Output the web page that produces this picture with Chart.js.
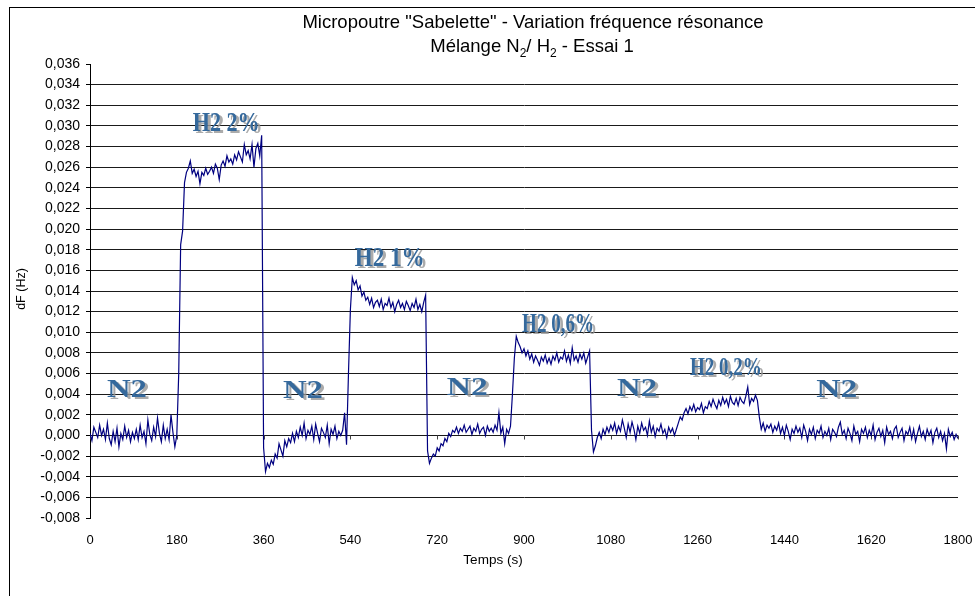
<!DOCTYPE html>
<html>
<head>
<meta charset="utf-8">
<script src="https://cdn.jsdelivr.net/npm/chart.js@4/dist/chart.umd.min.js"></script>
<style>
  html, body { margin: 0; padding: 0; background: #fff; }
  #wrap { width: 975px; height: 596px; position: relative; }
</style>
</head>
<body>
<div id="wrap"><canvas id="c" width="975" height="596"></canvas></div>
<script>
// ---------------- DATA ----------------
const titleLine1 = 'Micropoutre "Sabelette" - Variation fréquence résonance';
const xAxisTitle = 'Temps (s)';
const yAxisTitle = 'dF (Hz)';

const xTickValues = [0, 180, 360, 540, 720, 900, 1080, 1260, 1440, 1620, 1800];
const yTickValues = [-0.008, -0.006, -0.004, -0.002, 0.000, 0.002, 0.004, 0.006, 0.008, 0.010,
  0.012, 0.014, 0.016, 0.018, 0.020, 0.022, 0.024, 0.026, 0.028, 0.030, 0.032, 0.034, 0.036];

const sampleStepSeconds = 4;
// start time (s) of each recorded phase
const phaseStarts = [0, 184, 360, 536, 700, 876, 1040, 1216, 1388];

// dF (Hz), one value every 4 s
const n2Phase1 = [0.0002,-0.0005,0.0008,0.0003,-0.0002,0.0010,0.0000,0.0006,-0.0004,0.0012,
  -0.0003,-0.0009,0.0004,-0.0006,0.0007,-0.0011,0.0002,-0.0004,0.0009,-0.0002,
  0.0005,-0.0006,0.0003,-0.0003,0.0006,-0.0004,0.0010,-0.0002,0.0004,-0.0008,
  0.0015,0.0001,-0.0005,0.0008,-0.0001,0.0017,0.0002,-0.0006,0.0010,-0.0003,
  0.0006,-0.0004,0.0020,0.0003,-0.0011,0.0000];
const h2Phase2pct = [0.0060,0.0185,0.0198,0.0245,0.0255,
  0.0259,0.0266,0.0254,0.0258,0.0251,0.0256,0.0244,0.0255,0.0252,0.0259,
  0.0253,0.0256,0.0260,0.0254,0.0263,0.0259,0.0248,0.0262,0.0266,0.0261,
  0.0271,0.0265,0.0268,0.0263,0.0272,0.0267,0.0275,0.0270,0.0265,0.0282,
  0.0272,0.0276,0.0268,0.0282,0.0260,0.0278,0.0283,0.0271,0.0291];
const n2Phase2 = [-0.0012,-0.0035,-0.0027,-0.0031,-0.0024,-0.0028,-0.0018,-0.0022,-0.0008,-0.0014,
  -0.0020,-0.0005,-0.0011,-0.0003,-0.0007,0.0002,-0.0006,0.0004,-0.0002,0.0008,
  0.0000,0.0012,-0.0003,0.0005,0.0001,0.0009,-0.0004,0.0011,0.0002,-0.0006,
  0.0007,0.0003,-0.0002,0.0010,-0.0008,0.0006,0.0001,0.0009,-0.0003,0.0004,
  0.0000,0.0005,0.0022,-0.0009];
const h2Phase1pct = [0.0060,0.0122,0.0153,0.0146,0.0150,0.0141,0.0145,0.0135,0.0139,0.0131,
  0.0134,0.0127,0.0133,0.0124,0.0129,0.0131,0.0125,0.0132,0.0122,0.0128,
  0.0126,0.0133,0.0124,0.0129,0.0120,0.0127,0.0131,0.0124,0.0128,0.0122,
  0.0130,0.0126,0.0121,0.0128,0.0124,0.0132,0.0122,0.0127,0.0120,0.0129,
  0.0136];
const n2Phase3 = [-0.0015,-0.0027,-0.0022,-0.0018,-0.0020,-0.0012,-0.0015,-0.0008,-0.0010,-0.0003,
  -0.0006,0.0002,-0.0001,0.0005,0.0003,0.0008,0.0002,0.0007,0.0004,0.0010,
  0.0003,0.0006,0.0009,0.0001,0.0007,0.0004,0.0011,0.0002,0.0006,0.0008,
  0.0000,0.0009,0.0004,0.0007,0.0003,0.0010,0.0005,0.0022,0.0002,0.0008,
  -0.0008,0.0006,0.0002,0.0009];
const h2Phase06pct = [0.0040,0.0075,0.0096,0.0090,0.0086,0.0080,0.0084,0.0077,0.0082,0.0074,
  0.0079,0.0071,0.0077,0.0073,0.0068,0.0076,0.0072,0.0078,0.0070,0.0075,
  0.0069,0.0077,0.0073,0.0080,0.0071,0.0076,0.0074,0.0082,0.0072,0.0078,
  0.0070,0.0085,0.0073,0.0077,0.0071,0.0079,0.0074,0.0080,0.0070,0.0076,
  0.0082];
const n2Phase4 = [0.0005,-0.0016,-0.0010,-0.0002,0.0003,-0.0003,0.0006,0.0001,0.0008,0.0003,
  0.0010,0.0005,0.0012,0.0002,0.0009,0.0004,0.0015,0.0007,-0.0002,0.0011,
  0.0003,0.0013,0.0006,-0.0004,0.0009,0.0002,0.0012,0.0005,0.0008,0.0000,
  0.0014,0.0003,0.0009,-0.0001,0.0007,0.0004,0.0011,0.0002,0.0006,-0.0002,
  0.0008,0.0003,0.0007,0.0000];
const h2Phase02pct = [0.0006,0.0012,0.0018,0.0015,0.0022,0.0026,0.0021,0.0028,0.0024,0.0030,
  0.0023,0.0027,0.0025,0.0031,0.0022,0.0028,0.0026,0.0033,0.0028,0.0035,
  0.0030,0.0026,0.0034,0.0029,0.0037,0.0031,0.0035,0.0028,0.0038,0.0032,
  0.0030,0.0036,0.0029,0.0037,0.0033,0.0031,0.0038,0.0047,0.0030,0.0036,
  0.0033,0.0039,0.0034];
const n2Phase5 = [0.0018,0.0006,0.0012,0.0004,0.0010,0.0007,0.0011,0.0003,0.0009,0.0005,
  0.0012,0.0002,0.0008,0.0000,0.0010,0.0004,-0.0004,0.0006,0.0002,0.0009,
  0.0003,0.0007,-0.0002,0.0010,0.0004,-0.0005,0.0006,0.0001,0.0008,-0.0003,
  0.0005,0.0002,0.0009,-0.0002,0.0004,0.0000,0.0007,-0.0004,0.0006,0.0003,
  -0.0001,0.0008,0.0013,0.0001,0.0005,-0.0003,0.0007,0.0002,-0.0005,0.0009,
  0.0001,0.0004,-0.0006,0.0006,0.0002,0.0008,-0.0002,0.0005,0.0000,0.0010,
  -0.0004,0.0003,0.0007,-0.0001,0.0005,-0.0007,0.0008,0.0001,0.0004,-0.0003,
  0.0006,0.0009,-0.0002,0.0003,0.0007,-0.0005,0.0004,0.0001,0.0008,-0.0003,
  0.0006,-0.0006,0.0002,0.0009,-0.0001,0.0004,-0.0004,0.0006,0.0000,0.0005,
  -0.0007,0.0003,0.0007,-0.0002,0.0004,-0.0005,0.0002,-0.0013,0.0006,-0.0001,
  0.0003,-0.0004,0.0001,-0.0003];

const phaseSeries = [n2Phase1, h2Phase2pct, n2Phase2, h2Phase1pct, n2Phase3,
  h2Phase06pct, n2Phase4, h2Phase02pct, n2Phase5];

// gas annotations (text, anchor time in s, anchor dF in Hz = left/baseline)
const labelTexts  = ['H2 2%', 'H2 1%', 'H2 0,6%', 'H2 0,2%', 'N2', 'N2', 'N2', 'N2', 'N2'];
const labelTimes  = [213, 549, 896, 1244, 35, 400, 740, 1093, 1506];
const labelValues = [0.0295, 0.0164, 0.0100, 0.0059, 0.0037, 0.0036, 0.0039, 0.0038, 0.0037];

// ---------------- STYLE ----------------
const labelWidthsPx = [67, 70, 72, 72, 40, 40, 41, 40, 41];
const labelFontPx   = [28, 27, 27, 26, 26, 26, 26, 26, 26];
const SANS = '"Liberation Sans", Arial, sans-serif';
const SERIF = '"Liberation Serif", "Times New Roman", serif';

const points = [];
phaseSeries.forEach((arr, p) => {
  arr.forEach((v, i) => points.push({ x: phaseStarts[p] + i * sampleStepSeconds, y: v }));
});

function fmt(v) {
  if (Math.abs(v) < 1e-9) return '0,000';
  return v.toFixed(3).replace('.', ',');
}

const decorPlugin = {
  id: 'decor',
  beforeDraw(chart) {
    const ctx = chart.ctx;
    ctx.save();
    ctx.fillStyle = '#fff';
    ctx.fillRect(0, 0, chart.width, chart.height);
    ctx.strokeStyle = '#000';
    ctx.lineWidth = 1;
    ctx.strokeRect(9.5, 7.5, chart.width + 20, chart.height + 20);
    ctx.restore();
  },
  beforeDatasetsDraw(chart) {
    const ctx = chart.ctx;
    const xs = chart.scales.x, ys = chart.scales.y;
    const y0 = Math.round(ys.getPixelForValue(0)) + 0.5;
    ctx.save();
    ctx.strokeStyle = '#444';
    ctx.lineWidth = 1;
    ctx.beginPath();
    xTickValues.forEach(t => {
      const px = Math.round(xs.getPixelForValue(t)) + 0.5;
      ctx.moveTo(px, y0);
      ctx.lineTo(px, y0 + 4);
    });
    ctx.stroke();
    ctx.restore();
  },
  afterDatasetsDraw(chart) {
    const ctx = chart.ctx;
    const xs = chart.scales.x, ys = chart.scales.y;
    labelTexts.forEach((txt, i) => {
      const px = xs.getPixelForValue(labelTimes[i]);
      const py = ys.getPixelForValue(labelValues[i]);
      ctx.save();
      ctx.font = 'bold ' + labelFontPx[i] + 'px ' + SERIF;
      ctx.textBaseline = 'alphabetic';
      ctx.textAlign = 'left';
      const sx = labelWidthsPx[i] / ctx.measureText(txt).width;
      // shadow
      ctx.save();
      ctx.translate(px + 3, py + 2);
      ctx.scale(sx, 1);
      ctx.fillStyle = 'rgba(150,150,150,0.8)';
      ctx.fillText(txt, 0, 0);
      ctx.restore();
      // main
      ctx.translate(px, py);
      ctx.scale(sx, 1);
      ctx.fillStyle = '#35699c';
      ctx.fillText(txt, 0, 0);
      ctx.restore();
    });
  },
  afterDraw(chart) {
    const ctx = chart.ctx;
    ctx.save();
    ctx.fillStyle = '#000';
    ctx.textBaseline = 'alphabetic';
    // title line 1
    ctx.font = '18.5px ' + SANS;
    ctx.textAlign = 'center';
    ctx.fillText(titleLine1, 533, 28);
    // title line 2 with subscripts
    const parts = [['Mélange N', false], ['2', true], ['/ H', false], ['2', true], [' - Essai 1', false]];
    const mainFont = '18.5px ' + SANS, subFont = '12px ' + SANS;
    let total = 0;
    parts.forEach(([t, s]) => { ctx.font = s ? subFont : mainFont; total += ctx.measureText(t).width; });
    let x = 532 - total / 2;
    ctx.textAlign = 'left';
    parts.forEach(([t, s]) => {
      ctx.font = s ? subFont : mainFont;
      ctx.fillText(t, x, s ? 57 : 52);
      x += ctx.measureText(t).width;
    });
    // x axis title
    ctx.font = '13.5px ' + SANS;
    ctx.textAlign = 'center';
    ctx.fillText(xAxisTitle, 493, 564);
    // y axis title
    ctx.translate(22, 289);
    ctx.rotate(-Math.PI / 2);
    ctx.font = '12.5px ' + SANS;
    ctx.textBaseline = 'middle';
    ctx.fillText(yAxisTitle, 0, 0);
    ctx.restore();
  }
};

new Chart(document.getElementById('c'), {
  type: 'line',
  data: {
    datasets: [{
      data: points,
      borderColor: '#000080',
      borderWidth: 1.2,
      pointRadius: 0,
      tension: 0,
      fill: false
    }]
  },
  options: {
    responsive: false,
    animation: false,
    events: [],
    layout: { padding: { top: 64, right: 17, bottom: 0, left: 0 } },
    plugins: { legend: { display: false }, title: { display: false }, tooltip: { enabled: false } },
    scales: {
      x: {
        type: 'linear',
        min: 0, max: 1800,
        afterFit(s) { s.height = 78; s.paddingLeft = 0; s.paddingRight = 0; },
        afterBuildTicks(s) { s.ticks = xTickValues.map(v => ({ value: v })); },
        grid: { display: false, drawTicks: false },
        border: { display: false },
        ticks: {
          color: '#000',
          font: { family: SANS, size: 13 },
          padding: 15,
          maxRotation: 0,
          autoSkip: false,
          callback: v => String(v)
        }
      },
      y: {
        type: 'linear',
        min: -0.008, max: 0.036,
        afterFit(s) { s.width = 90; s.paddingTop = 0; s.paddingBottom = 0; },
        afterBuildTicks(s) { s.ticks = yTickValues.map(v => ({ value: v })); },
        grid: {
          color: ctx => (ctx.index === 0 || ctx.index === yTickValues.length - 1) ? 'rgba(0,0,0,0)' : '#1a1a1a',
          tickColor: '#000',
          tickLength: 4,
          lineWidth: 1
        },
        border: { display: true, color: '#000', width: 1 },
        ticks: {
          color: '#000',
          font: { family: SANS, size: 14 },
          padding: 6,
          autoSkip: false,
          callback: v => fmt(v)
        }
      }
    }
  },
  plugins: [decorPlugin]
});
</script>
</body>
</html>
